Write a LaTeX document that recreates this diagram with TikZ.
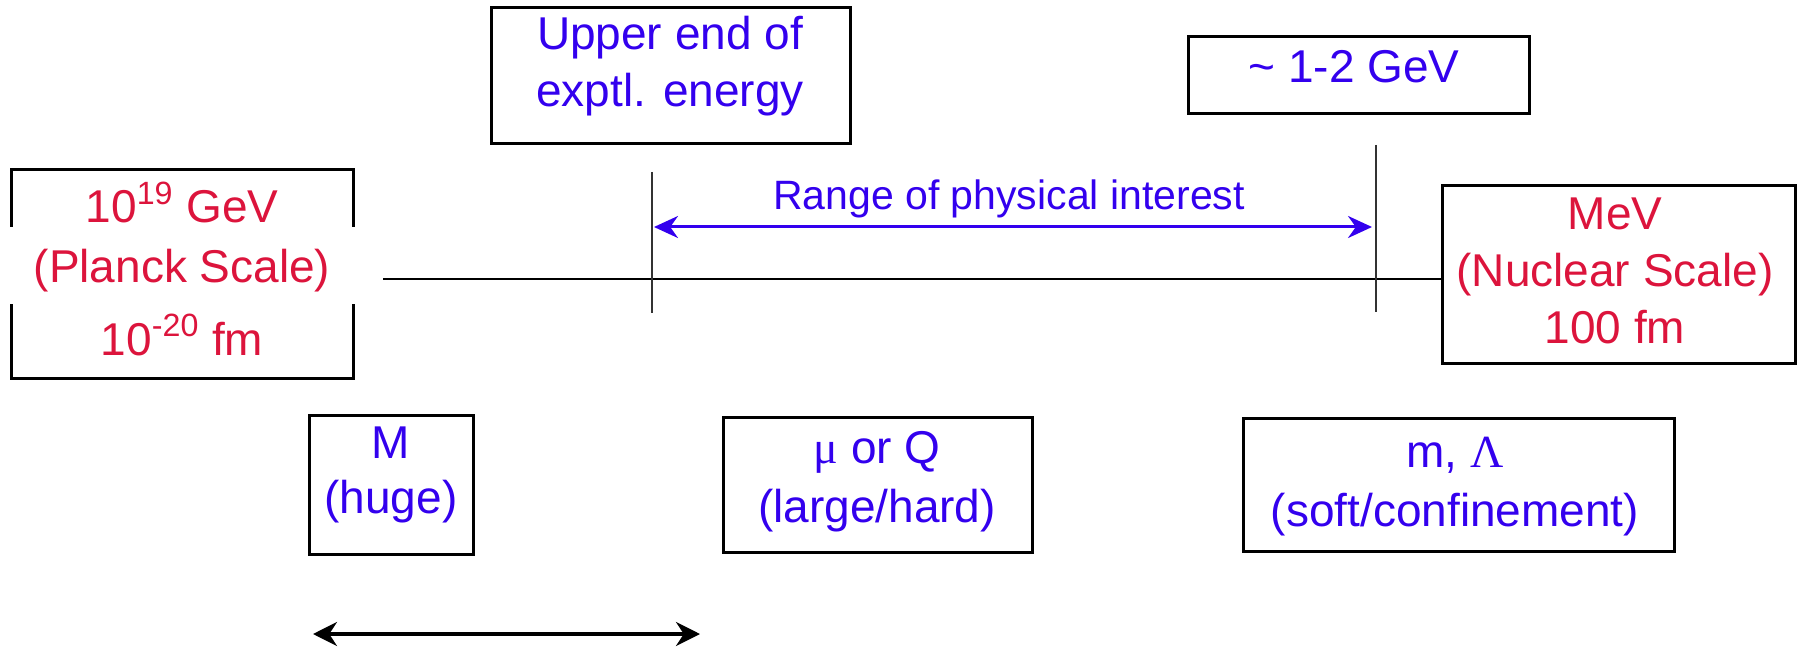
\documentclass[tikz,border=0pt]{standalone}
\usepackage{fontspec}
\setmainfont{Liberation Sans}
\newfontfamily\greekfont{Liberation Serif}
\usetikzlibrary{arrows.meta}
\definecolor{scalered}{HTML}{DC143C}
\definecolor{scaleblue}{HTML}{3300EE}

\begin{document}
\begin{tikzpicture}[
    x=0.5pt, y=-0.5pt,
    boxnode/.style={draw=black, line width=1.5pt, rectangle, inner sep=0pt},
    redtext/.style={text=scalered, font=\fontsize{23}{27}\selectfont, anchor=base, inner sep=0pt},
    bluetext/.style={text=scaleblue, font=\fontsize{23}{27}\selectfont, anchor=base, inner sep=0pt},
    rangetext/.style={text=scaleblue, font=\fontsize{20.5}{24}\selectfont, anchor=base, inner sep=0pt},
    axisline/.style={draw=black, line width=1.3pt},
    tickline/.style={draw=black!80, line width=1pt},
    rangearrow/.style={draw=scaleblue, line width=1.5pt, {Stealth[length=12pt,width=11pt]}-{Stealth[length=12pt,width=11pt]}},
    spanarrow/.style={draw=black, line width=1.8pt, {Stealth[length=12pt,width=12pt]}-{Stealth[length=12pt,width=12pt]}}
]
    \useasboundingbox (0,0) rectangle (1803,652);

    % Scatole della scala di energia
    \node[boxnode, minimum width=171pt, minimum height=104pt] (planck) at (182,274) {};
    \node[boxnode, minimum width=179.5pt, minimum height=68pt] (upper) at (670.5,76) {};
    \node[boxnode, minimum width=170.5pt, minimum height=38.5pt] (gev) at (1358.5,75.5) {};
    \node[boxnode, minimum width=176.5pt, minimum height=88.5pt] (mev) at (1618.5,274.5) {};

    % Testi rossi (Planck / nucleare)
    \node[redtext] (planckgev) at (182,223) {10\textsuperscript{19} GeV};
    \node[redtext, fill=white, text height=27.5pt, text depth=11pt, minimum width=180pt] (planckname) at (182,282) {(Planck Scale)};
    \node[redtext] (planckfm) at (182,355) {10\textsuperscript{-20} fm};

    \node[redtext] (mevunit) at (1615,230) {MeV};
    \node[redtext] (mevname) at (1615,286) {(Nuclear Scale)};
    \node[redtext] (mevfm) at (1615,343) {100 fm};

    % Testi blu in alto
    \node[bluetext] (upperA) at (670,50) {Upper end of};
    \node[bluetext] (upperB) at (670,107) {exptl. energy};
    \node[bluetext] (gevtext) at (1354,83) {\textasciitilde{} 1-2 GeV};

    % Asse e tacche
    \coordinate (axisstart) at (383,279);
    \draw[axisline] (axisstart) -- (axisstart -| mev.west);

    \coordinate (tickAtop) at (652,172);
    \coordinate (tickAbot) at (652,313);
    \coordinate (tickBtop) at (1376,145);
    \coordinate (tickBbot) at (1376,312);
    \draw[tickline] (tickAtop) -- (tickAbot);
    \draw[tickline] (tickBtop) -- (tickBbot);

    % Intervallo di interesse fisico
    \coordinate (rangeL) at (654,227);
    \coordinate (rangeR) at (1372,227);
    \draw[rangearrow] (rangeL) -- (rangeR);
    \node[rangetext] (rangelabel) at (1009,210) {Range of physical interest};

    % Scatole in basso
    \node[boxnode, minimum width=82pt, minimum height=69.5pt] (huge) at (391,484.5) {};
    \node[boxnode, minimum width=154.5pt, minimum height=67.5pt] (hard) at (877.5,484.5) {};
    \node[boxnode, minimum width=215.5pt, minimum height=66.5pt] (soft) at (1458.5,484.5) {};

    \node[bluetext] (hugeA) at (391,458) {M};
    \node[bluetext] (hugeB) at (391,513) {(huge)};
    \node[bluetext] (hardA) at (877,463) {{\greekfont μ} or Q};
    \node[bluetext] (hardB) at (877,522) {(large/hard)};
    \node[bluetext] (softA) at (1455,467) {m, {\greekfont Λ}};
    \node[bluetext] (softB) at (1455,526) {(soft/confinement)};

    % Freccia in basso
    \coordinate (spanL) at (313,634);
    \coordinate (spanR) at (700,634);
    \draw[spanarrow] (spanL) -- (spanR);
\end{tikzpicture}
\end{document}
